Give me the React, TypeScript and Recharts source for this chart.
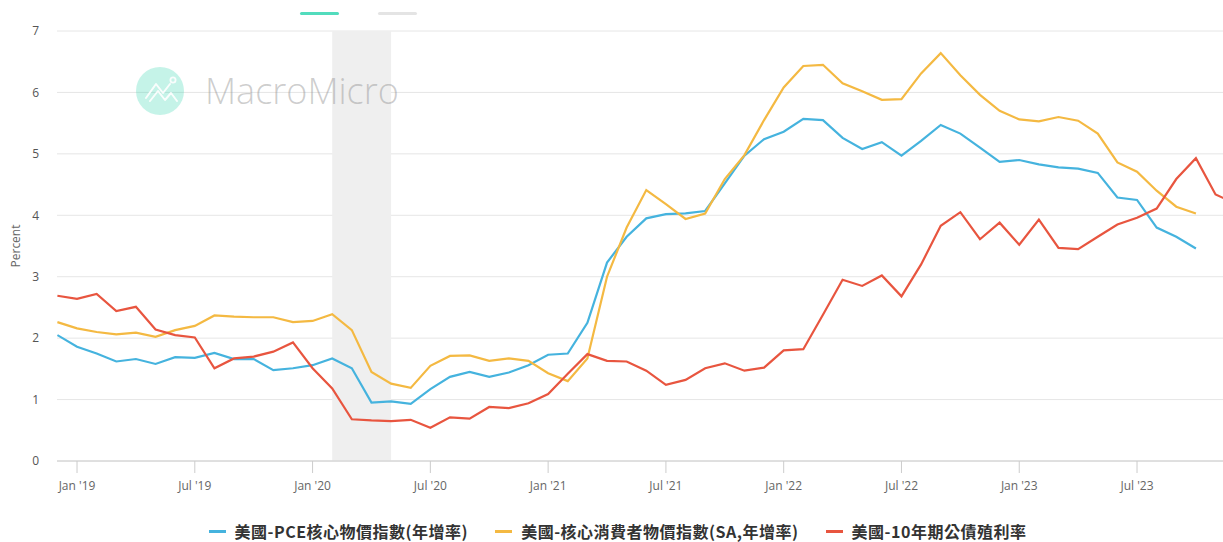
import { LineChart, Line, XAxis, YAxis, CartesianGrid, ReferenceArea, Legend } from "recharts"

// month index: 0 = Jan 2019, first point is Dec 2018
const startMonth = -1

const pceCore = [
  2.05, 1.86, 1.75, 1.62, 1.66, 1.58, 1.69, 1.68, 1.76, 1.66, 1.66, 1.48, 1.51,
  1.56, 1.67, 1.51, 0.95, 0.97, 0.93, 1.17, 1.37, 1.45, 1.37, 1.44, 1.56,
  1.73, 1.75, 2.25, 3.23, 3.65, 3.95, 4.02, 4.03, 4.07, 4.52, 4.97, 5.24,
  5.36, 5.57, 5.55, 5.26, 5.08, 5.19, 4.97, 5.21, 5.47, 5.33, 5.1, 4.87,
  4.9, 4.83, 4.78, 4.76, 4.69, 4.29, 4.25, 3.8, 3.65, 3.46,
]

const cpiCore = [
  2.26, 2.16, 2.1, 2.06, 2.09, 2.02, 2.13, 2.2, 2.37, 2.35, 2.34, 2.34, 2.26,
  2.28, 2.39, 2.13, 1.45, 1.26, 1.19, 1.55, 1.71, 1.72, 1.63, 1.67, 1.63,
  1.43, 1.3, 1.67, 3.0, 3.8, 4.41, 4.18, 3.94, 4.03, 4.59, 4.98, 5.55,
  6.08, 6.43, 6.45, 6.15, 6.02, 5.88, 5.89, 6.31, 6.64, 6.28, 5.96, 5.7,
  5.56, 5.53, 5.6, 5.54, 5.33, 4.86, 4.71, 4.4, 4.14, 4.03,
]

const yield10y = [
  2.69, 2.64, 2.72, 2.44, 2.51, 2.14, 2.05, 2.01, 1.51, 1.67, 1.7, 1.78, 1.93,
  1.51, 1.18, 0.68, 0.66, 0.65, 0.67, 0.54, 0.71, 0.69, 0.88, 0.86, 0.94,
  1.09, 1.42, 1.74, 1.63, 1.62, 1.47, 1.24, 1.32, 1.51, 1.59, 1.47, 1.52,
  1.8, 1.82, 2.38, 2.95, 2.85, 3.02, 2.68, 3.2, 3.83, 4.05, 3.61, 3.88,
  3.52, 3.93, 3.47, 3.45, 3.65, 3.85, 3.96, 4.11, 4.59, 4.93, 4.34, 4.19,
]

const tickMonths = [0, 6, 12, 18, 24, 30, 36, 42, 48, 54]
const tickLabels = ["Jan '19", "Jul '19", "Jan '20", "Jul '20", "Jan '21", "Jul '21", "Jan '22", "Jul '22", "Jan '23", "Jul '23"]
const yTicks = [0, 1, 2, 3, 4, 5, 6, 7]

// recession band Feb 2020 - May 2020
const recessionStart = 13
const recessionEnd = 16

const series = [
  { key: "pce", name: "美國-PCE核心物價指數(年增率)", color: "#45b3de" },
  { key: "cpi", name: "美國-核心消費者物價指數(SA,年增率)", color: "#f4b942" },
  { key: "yld", name: "美國-10年期公債殖利率", color: "#e8553f" },
]

const data = yield10y.map((y, i) => ({
  t: startMonth + i,
  pce: pceCore[i],
  cpi: cpiCore[i],
  yld: y,
}))

const axisFont = "'Open Sans', 'Noto Sans', sans-serif"
const cjkFont = "'Noto Sans CJK TC', 'Noto Sans', sans-serif"

function LegendContent() {
  return (
    <div
      style={{
        display: "flex",
        justifyContent: "center",
        alignItems: "center",
        paddingLeft: 12,
        gap: 27,
        fontFamily: cjkFont,
        fontSize: 16,
        letterSpacing: 0.5,
        fontWeight: 700,
        color: "#333",
        lineHeight: "22px",
      }}
    >
      {series.map((s) => (
        <span key={s.key} style={{ display: "flex", alignItems: "center" }}>
          <span style={{ display: "inline-block", width: 17, height: 3, background: s.color, marginRight: 9 }} />
          {s.name}
        </span>
      ))}
    </div>
  )
}

// faint logo drawn over the plot, semi transparent so the band and grid show through
function Watermark() {
  return (
    <svg width={420} height={130} style={{ position: "absolute", left: 0, top: 0, pointerEvents: "none" }}>
      <circle cx={160} cy={91} r={24} fill="#3fd6b4" fillOpacity={0.3} />
      <g opacity={0.9}>
        <polyline points="146,98 156,84 163,93 170,84" fill="none" stroke="#fff" strokeWidth={2} strokeLinecap="round" strokeLinejoin="round" />
        <polyline points="150,101 158,91 165,100 171,93 177,101" fill="none" stroke="#fff" strokeWidth={2} strokeLinecap="round" strokeLinejoin="round" />
        <circle cx={173} cy={80} r={2.6} fill="none" stroke="#fff" strokeWidth={1.8} />
      </g>
      <text x={205} y={104} fontFamily="'Open Sans', sans-serif" fontWeight={300} fontSize={36} fill="#888" fillOpacity={0.42}>
        MacroMicro
      </text>
    </svg>
  )
}

export default function App() {
  return (
    <div style={{ position: "absolute", left: 0, top: 0, width: 1223, height: 542, overflow: "hidden", background: "#fff" }}>
      <div style={{ position: "absolute", left: 300, top: 12, width: 39, height: 3, background: "#52dcbd", borderRadius: 2 }} />
      <div style={{ position: "absolute", left: 378, top: 12, width: 39, height: 3, background: "#e4e4e4", borderRadius: 2 }} />
      <LineChart
        width={1223}
        height={542}
        data={data}
        margin={{ top: 31, right: 0, bottom: 0, left: 0 }}
        style={{ position: "absolute", left: 0, top: 0 }}
      >
        <ReferenceArea x1={recessionStart} x2={recessionEnd} fill="#efefef" fillOpacity={1} stroke="none" />
        <CartesianGrid vertical={false} stroke="#e6e6e6" />
        <XAxis
          dataKey="t"
          type="number"
          domain={[-1.02, 58.38]}
          allowDataOverflow
          ticks={tickMonths}
          tickFormatter={(v) => tickLabels[tickMonths.indexOf(v)] ?? ""}
          height={59}
          tickSize={12}
          tickMargin={8}
          stroke="#cccccc"
          tick={{ fill: "#666", fontSize: 12, fontFamily: axisFont }}
        />
        <YAxis
          domain={[0, 7]}
          ticks={yTicks}
          width={57}
          axisLine={false}
          tickLine={false}
          tickMargin={12}
          tick={{ fill: "#555", fontSize: 12, fontFamily: axisFont }}
          label={{
            content: (props: any) => {
              const vb = props.viewBox
              const cy = vb.y + vb.height / 2
              return (
                <text
                  x={15}
                  y={cy}
                  transform={`rotate(-90 15 ${cy})`}
                  textAnchor="middle"
                  dominantBaseline="central"
                  fontSize={12}
                  fontFamily={axisFont}
                  fill="#666"
                >
                  Percent
                </text>
              )
            },
          }}
        />
        {series.map((s) => (
          <Line
            key={s.key}
            type="linear"
            dataKey={s.key}
            name={s.name}
            stroke={s.color}
            strokeWidth={2.2}
            dot={false}
            activeDot={false}
            isAnimationActive={false}
          />
        ))}
        <Legend verticalAlign="bottom" content={<LegendContent />} wrapperStyle={{ bottom: 0, left: 0, width: 1223 }} />
      </LineChart>
      <Watermark />
    </div>
  )
}
